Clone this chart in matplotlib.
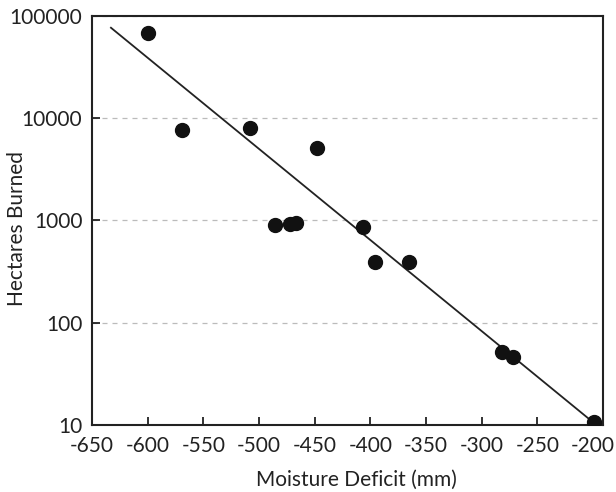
import numpy as np
import matplotlib.pyplot as plt

plt.rcParams['font.family'] = ['Lato', 'DejaVu Sans']
plt.rcParams['axes.unicode_minus'] = False

# moisture deficit (mm) vs hectares burned
deficit = [-600, -569, -508, -448, -486, -472, -467, -407, -396, -365, -282, -272, -199]
burned = [68000, 7600, 8000, 5100, 900, 930, 940, 860, 395, 390, 52, 46, 10.7]

# fitted line: log10(ha) = a + b * deficit
fit_a = -0.755
fit_b = -0.00891
fit_range = [-633, -197]

fig = plt.figure(figsize=(6.16, 4.92), dpi=100)
ax = fig.add_axes([0.1494, 0.1362, 0.8296, 0.8313])

xs = np.array(fit_range)
ax.plot(xs, 10 ** (fit_a + fit_b * xs), color='#222222', lw=1.3, zorder=2)
ax.plot(deficit, burned, 'o', color='#111111', markersize=10, zorder=3)

ax.set_yscale('log')
ax.set_ylim(10, 100000)
ax.set_xlim(-650, -191)
ax.set_xticks(range(-650, -199, 50))
ax.set_yticks([10, 100, 1000, 10000, 100000])
ax.set_yticklabels(['10', '100', '1000', '10000', '100000'])
ax.minorticks_off()
ax.yaxis.grid(True, linestyle=(0, (4, 4)), color='#bbbbbb', lw=0.9)

for s in ax.spines.values():
    s.set_linewidth(1.5)
    s.set_color('#222222')
ax.tick_params(direction='in', length=6, width=1.3, labelsize=15, colors='#222222')
ax.tick_params(axis='y', pad=7)
ax.tick_params(axis='x', pad=8)

ax.set_xlabel('Moisture Deficit (mm)', fontsize=15, color='#222222')
ax.set_ylabel('Hectares Burned', fontsize=15, color='#222222')
ax.xaxis.set_label_coords(0.517, -0.11)
ax.yaxis.set_label_coords(-0.128, 0.48)

fig.savefig('out.png', dpi=100)
